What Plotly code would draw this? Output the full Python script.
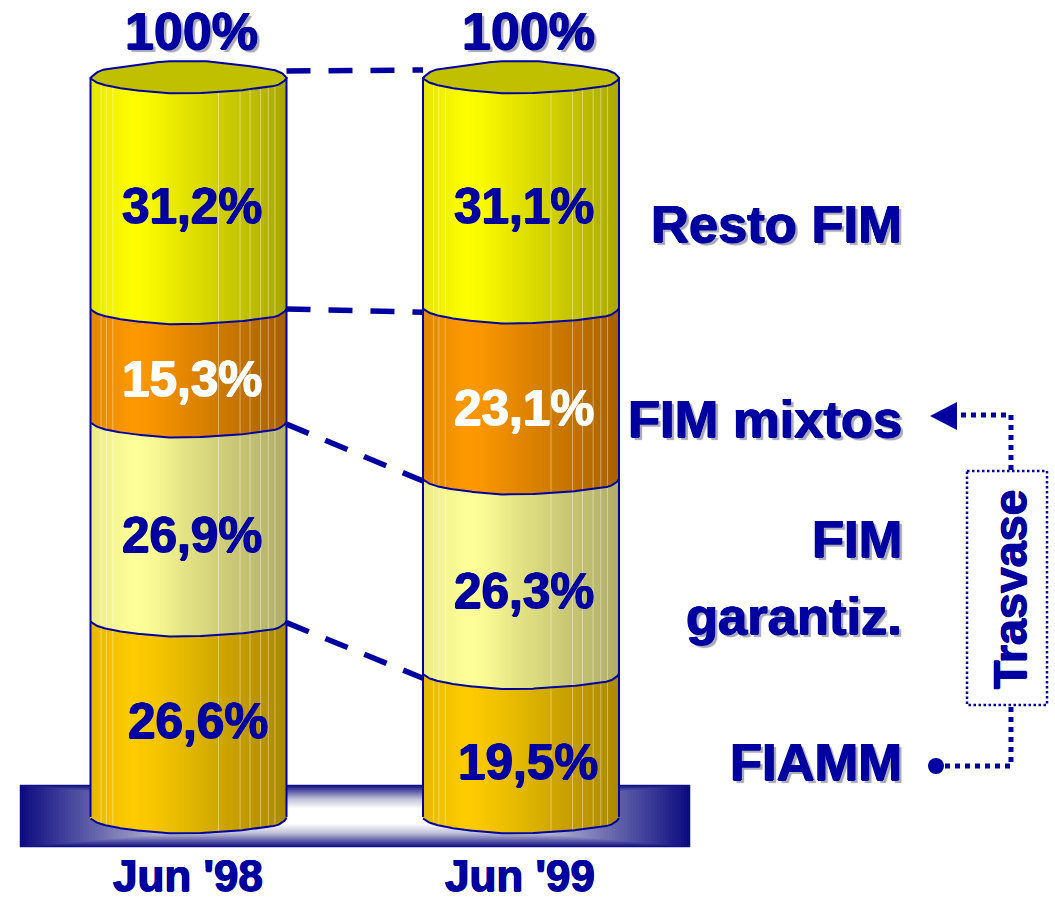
import numpy as np
import plotly.graph_objects as go

# ---- data ----
categories = ["Jun '98", "Jun '99"]
series_names = ["FIAMM", "FIM garantiz.", "FIM mixtos", "Resto FIM"]
fiamm = [26.6, 19.5]
garantiz = [26.9, 26.3]
mixtos = [15.3, 23.1]
resto = [31.2, 31.1]
value_labels = {
    "fiamm": ["26,6%", "19,5%"],
    "garantiz": ["26,9%", "26,3%"],
    "mixtos": ["15,3%", "23,1%"],
    "resto": ["31,2%", "31,1%"],
}
total_label = "100%"

# ---- page geometry ----
W, H = 1055, 903
Y0_PX, PX_PER_UNIT = 817.0, 7.4
X0_PX, PX_PER_CAT = 188.5, 332.5
HALF_W_PX = 98.0
NAVY = "#0000A0"
FONT = "Liberation Sans"


def xd(px):
    return (np.asarray(px, dtype=float) - X0_PX) / PX_PER_CAT


def yd(px):
    return (Y0_PX - np.asarray(px, dtype=float)) / PX_PER_UNIT


def xp(px):
    return px / W


def yp(px):
    return 1 - px / H


ARC_F = [0, .02, .05, .1, .19, .37, .5, .63, .76, .87, .95, .985, 1.0]
FRONT = [1.5, 4.5, 7, 9.5, 12.5, 16.3, 16.5, 15.3, 13.5, 11, 8.5, 5, 1]
BACK = [1, -3, -6.5, -9, -11, -15.5, -16, -15.5, -12, -9.5, -6.5, -3, 1]
HILITE_F = [.054, .081, .114, .653, .763, .814, .868, .907, .941]


def front(f):
    return np.interp(f, ARC_F, FRONT) / PX_PER_UNIT


def back(f):
    return np.interp(f, ARC_F, BACK) / PX_PER_UNIT


STOPS = [0, .22, .3, .5, .75, 1]
PALETTES = [
    [(230, 184, 0), (255, 204, 0), (250, 200, 0), (226, 184, 0), (198, 158, 0), (172, 138, 0)],
    [(236, 236, 136), (255, 255, 153), (252, 252, 150), (226, 226, 132), (200, 198, 116), (176, 174, 104)],
    [(224, 136, 0), (255, 153, 0), (250, 150, 0), (226, 134, 0), (196, 116, 0), (168, 96, 0)],
    [(230, 230, 0), (255, 255, 0), (250, 250, 0), (226, 226, 0), (198, 198, 0), (170, 168, 0)],
]


def shade(pal, f):
    return "rgb(%d,%d,%d)" % tuple(int(np.interp(f, STOPS, [c[i] for c in pal])) for i in range(3))


fig = go.Figure()

# base plate
bx = np.linspace(21.5, 688.5, 224)
by = np.linspace(785.5, 846.5, 62)
gx, gy = np.meshgrid(bx, by)
t = np.maximum(np.abs(gx - 355) / 335, np.abs(gy - 816) / 31)
fig.add_trace(go.Heatmap(
    x=xd(bx), y=yd(by), z=t, zmin=0, zmax=1, showscale=False, hoverinfo="skip",
    colorscale=[[0, "#FFFFFF"], [.24, "#FFFFFF"], [.55, "#C0C0D8"], [1, "#0A0A80"]],
))

columns = [fiamm, garantiz, mixtos, resto]
N = 98
fr = (np.arange(N) + .5) / N
half = HALF_W_PX / PX_PER_CAT
strip = 2 * half / N
cum = np.zeros(len(categories))
tops = [cum.copy()]
for col, pal, name in zip(columns, PALETTES, series_names):
    col = np.asarray(col)
    for i in range(len(categories)):
        fig.add_trace(go.Bar(
            x=i - half + fr * 2 * half,
            y=np.full(N, col[i]),
            base=cum[i] - front(fr),
            width=strip * 1.12,
            marker=dict(color=[shade(pal, f) for f in fr], line_width=0),
            name=name, showlegend=False, hoverinfo="skip",
        ))
    cum = cum + col
    tops.append(cum.copy())
tops = np.array(tops)

af = np.linspace(0, 1, 197)
for i in range(len(categories)):
    # faint vertical highlights
    hx, hy = [], []
    for f in HILITE_F:
        hx += [i - half + f * 2 * half] * 2 + [None]
        hy += [tops[-1, i] - float(front(f)), tops[0, i] - float(front(f)), None]
    fig.add_trace(go.Scatter(x=hx, y=hy, mode="lines", opacity=.4,
                             line=dict(color="#FFFFFF", width=1), hoverinfo="skip", showlegend=False))
    # top rim
    rx = i - half + np.r_[af, af[::-1]] * 2 * half
    ry = tops[-1, i] - np.r_[front(af), back(af[::-1])]
    fig.add_trace(go.Scatter(x=rx, y=ry, mode="lines", fill="toself", fillcolor="#C0C000",
                             line=dict(color=NAVY, width=2), hoverinfo="skip", showlegend=False))
    # segment boundaries + bottom
    for lvl in tops[:-1, i]:
        fig.add_trace(go.Scatter(x=i - half + af * 2 * half, y=lvl - front(af), mode="lines",
                                 line=dict(color=NAVY, width=2), hoverinfo="skip", showlegend=False))
    # sides
    for s in (-half, half):
        fig.add_trace(go.Scatter(x=[i + s, i + s], y=[tops[-1, i], tops[0, i]], mode="lines",
                                 line=dict(color=NAVY, width=2), hoverinfo="skip", showlegend=False))

# dashed connectors between the two columns
LEFT_OFF = [2.5, 2.5, 3.0, 1.0, -6.0]
RIGHT_OFF = [0, 5.5, 3.0, 5.0, -7.0]
for k in range(1, tops.shape[0]):
    fig.add_trace(go.Scatter(
        x=[half, 1 - half],
        y=[tops[k, 0] - LEFT_OFF[k] / PX_PER_UNIT, tops[k, 1] - RIGHT_OFF[k] / PX_PER_UNIT],
        mode="lines", line=dict(color=NAVY, width=5.5, dash="24px,18px"),
        hoverinfo="skip", showlegend=False))

ann = []


def heavy(color, drop=False):
    s = f"0.7px 0 0 {color}, -0.7px 0 0 {color}, 0 0.5px 0 {color}, 0 -0.5px 0 {color}"
    if drop:
        s += ", 3px 3px 1px #A8A8B8"
    return s


def label(text, x, y, size, color=NAVY, anchor="center", drop=False, angle=0):
    font = dict(family=FONT, size=size, color=color, weight="bold", shadow=heavy(color, drop))
    ann.append(dict(text=text, x=xp(x), y=yp(y), xref="paper", yref="paper", xanchor=anchor,
                    yanchor="middle", showarrow=False, font=font, textangle=angle))


for cx in (191, 528):
    label(total_label, cx, 31, 52, drop=True)
for i, cx in enumerate((188, 520)):
    label(categories[i], cx, 875, 44)
VALUE_POS = {
    "resto": ([(192, 206), (524, 206)], NAVY),
    "mixtos": ([(192, 378), (524, 407)], "#FFFFFF"),
    "garantiz": ([(192, 534), (524, 590)], NAVY),
    "fiamm": ([(198, 720), (528, 761)], NAVY),
}
for key, (pos, color) in VALUE_POS.items():
    for txt, (cx, cy) in zip(value_labels[key], pos):
        label(txt, cx, cy, 49.5, color=color)
for txt, cy in [("Resto FIM", 223), ("FIM mixtos", 418), ("FIM", 538), ("garantiz.", 615), ("FIAMM", 761)]:
    label(txt, 904, cy, 52.5, anchor="right", drop=True)
label("Trasvase", 1010, 589, 46.6, angle=-90)

shapes = []
dot = dict(color=NAVY, width=5, dash="5px,5px")
for pts in ([(945, 766), (1011, 766), (1011, 706)], [(1011, 470), (1011, 415), (958, 415)]):
    d = "M " + " L ".join(f"{xp(a):.5f} {yp(b):.5f}" for a, b in pts)
    shapes.append(dict(type="path", xref="paper", yref="paper", path=d, line=dot))
shapes.append(dict(type="rect", xref="paper", yref="paper", x0=xp(967), x1=xp(1047), y0=yp(471), y1=yp(705),
                   line=dict(color=NAVY, width=2.5, dash="2.5px,2.5px")))
shapes.append(dict(type="circle", xref="paper", yref="paper", x0=xp(928), x1=xp(944), y0=yp(758), y1=yp(774),
                   fillcolor=NAVY, line_width=0))
tri = [(930, 416), (957, 402), (957, 430)]
shapes.append(dict(type="path", xref="paper", yref="paper", fillcolor=NAVY, line_width=0,
                   path="M " + " L ".join(f"{xp(a):.5f} {yp(b):.5f}" for a, b in tri) + " Z"))
# thin lilac outline of the plate
shapes.append(dict(type="rect", xref="x", yref="y", x0=float(xd(20)), x1=float(xd(690)), y0=float(yd(847)), y1=float(yd(785)),
                   line=dict(color="#8888C8", width=1), layer="below"))

fig.update_layout(
    width=W, height=H, margin=dict(l=0, r=0, t=0, b=0, pad=0),
    paper_bgcolor="white", plot_bgcolor="white", barmode="overlay", bargap=0,
    showlegend=False, annotations=ann, shapes=shapes,
    xaxis=dict(visible=False, range=[float(xd(0)), float(xd(W))], fixedrange=True),
    yaxis=dict(visible=False, range=[float(yd(H)), float(yd(0))], fixedrange=True),
)
fig.write_html("out.html", config={"displayModeBar": False},
               post_script="document.body.style.margin='0';document.documentElement.style.overflow='hidden';")
